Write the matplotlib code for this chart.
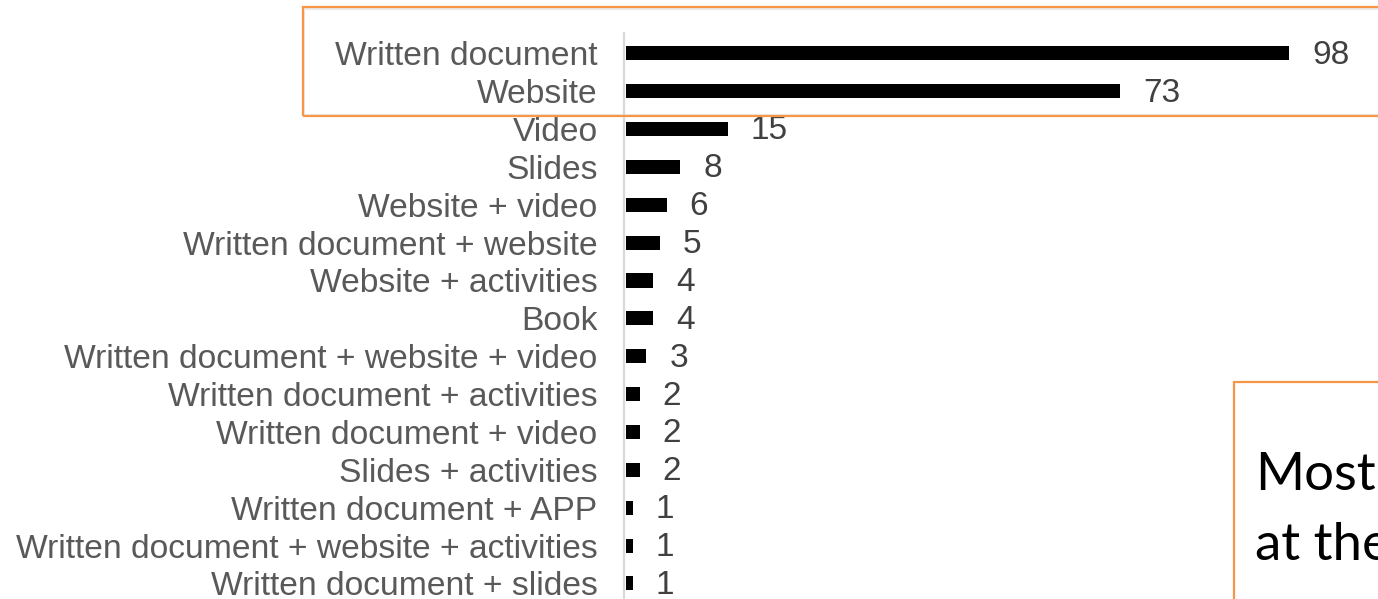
import matplotlib
matplotlib.use("Agg")
import matplotlib.pyplot as plt
from matplotlib.patches import Rectangle

categories = [
    "Written document", "Website", "Video", "Slides", "Website + video",
    "Written document + website", "Website + activities", "Book",
    "Written document + website + video", "Written document + activities",
    "Written document + video", "Slides + activities",
    "Written document + APP", "Written document + website + activities",
    "Written document + slides",
]
values = [98, 73, 15, 8, 6, 5, 4, 4, 3, 2, 2, 2, 1, 1, 1]
note_lines = ["Most", "at the"]

W, H = 1378, 599
fig = plt.figure(figsize=(W / 100, H / 100), dpi=100)
fig.patch.set_facecolor("white")

def fx(px):
    return px / W

def fy(py):
    return 1 - py / H

ax_left, ax_right, ax_top, ax_bot = 624, 1378, 33, 599
ax = fig.add_axes([fx(ax_left), fy(ax_bot), fx(ax_right - ax_left), (ax_bot - ax_top) / H])
ax.set_zorder(5)

ypos = list(range(len(categories)))
ax.barh(ypos, values, height=0.37, color="black", left=0.3)
ax.set_xlim(0, (ax_right - ax_left) / 6.77)
ax.set_ylim(14.41, -0.535)
ax.set_yticks(ypos)
ax.set_yticklabels(categories, fontsize=24.2, color="#595959", family="Liberation Sans")
ax.tick_params(axis="y", length=0, pad=19)
ax.set_xticks([])
for s in ["top", "right", "bottom"]:
    ax.spines[s].set_visible(False)
ax.spines["left"].set_color("#D9D9D9")
ax.spines["left"].set_linewidth(1.6)
ax.set_facecolor("none")

for y, v in zip(ypos, values):
    ax.text(v + 0.3 + 3.4, y + 0.05, str(v), va="center", ha="left",
            fontsize=24, color="#404040", family="Liberation Sans")

orange = "#F79646"
# top highlight box with faint inner shadow
fig.patches.append(Rectangle((fx(304), fy(115)), fx(1100), (115 - 9) / H,
                             transform=fig.transFigure, fill=False,
                             edgecolor="#EBEBEB", linewidth=1.5, zorder=1))
fig.patches.append(Rectangle((fx(303), fy(116)), fx(1100), (116 - 7) / H,
                             transform=fig.transFigure, fill=False,
                             edgecolor=orange, linewidth=1.6, zorder=10))
# bottom-right note box
fig.patches.append(Rectangle((fx(1234), fy(640)), fx(200), (640 - 382) / H,
                             transform=fig.transFigure, facecolor="white",
                             edgecolor=orange, linewidth=1.6, zorder=10))
fig.text(fx(1255), fy(490), note_lines[0], fontsize=38, family="Lato",
         color="black", va="baseline", ha="left", zorder=11)
fig.text(fx(1255), fy(560), note_lines[1], fontsize=38, family="Lato",
         color="black", va="baseline", ha="left", zorder=11)

fig.savefig("out.png", dpi=100, facecolor="white")
